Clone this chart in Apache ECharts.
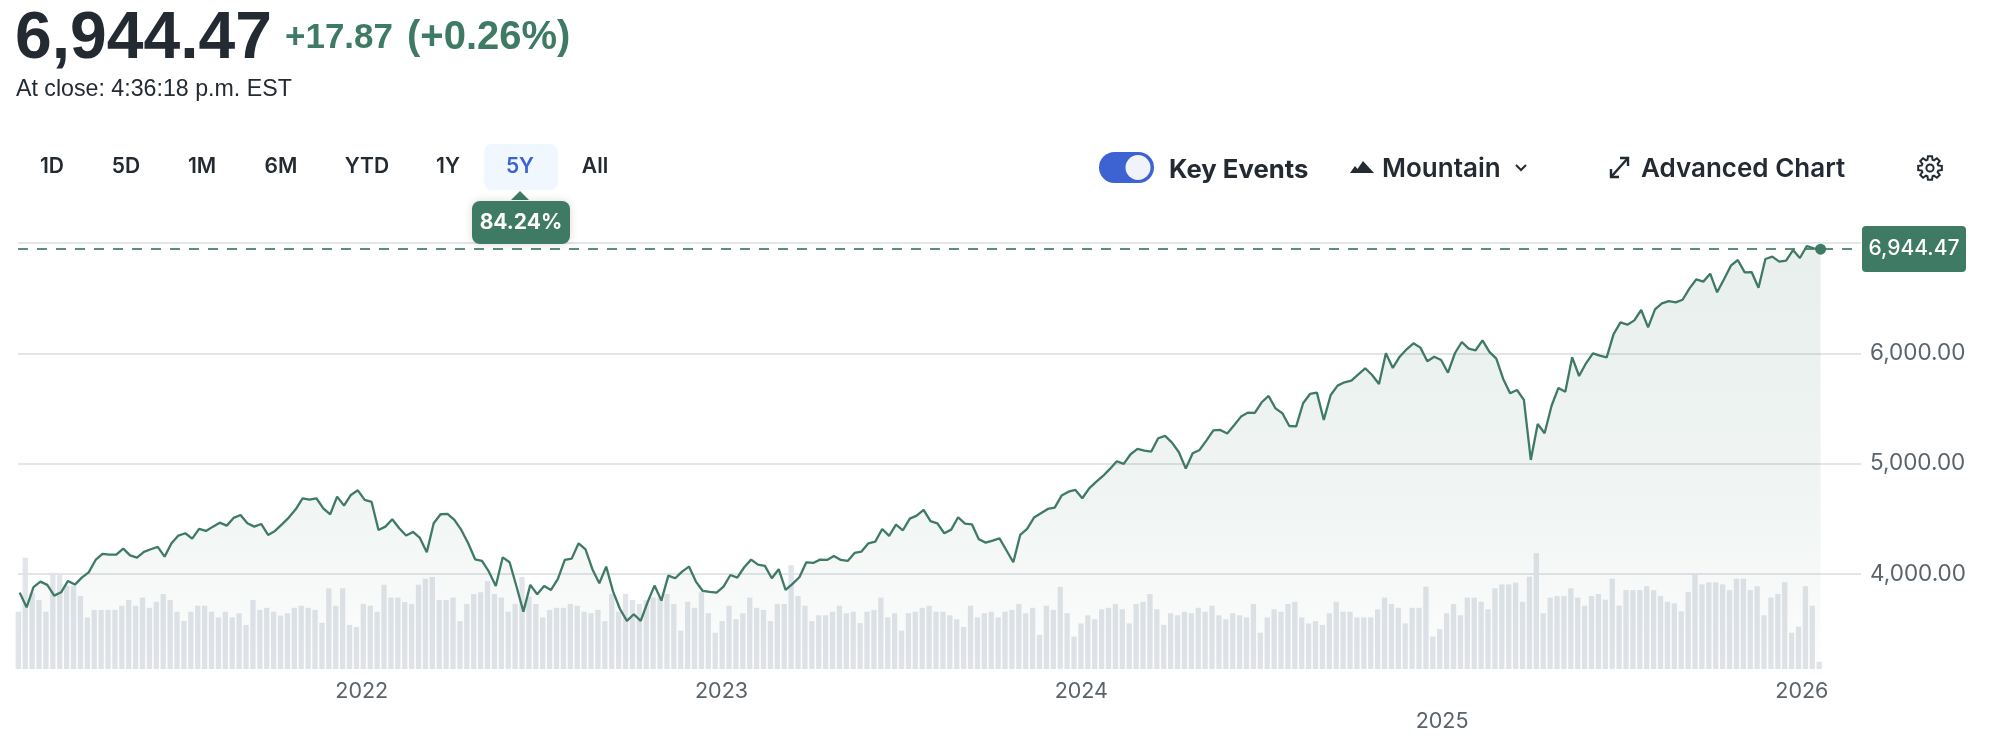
<!DOCTYPE html>
<html><head><meta charset="utf-8">
<style>html,body{margin:0;padding:0;background:#fff}#c{width:2007px;height:754px}</style>
<script src="https://cdn.jsdelivr.net/npm/echarts@6/dist/echarts.min.js"></script>
</head><body><div id="c"></div>
<script>
// Weekly closes
const closes=[3832,3699,3881,3932,3902,3805,3835,3938,3905,3968,4016,4128,4183,4177,4177,4231,4170,4149,4201,4225,4246,4158,4279,4349,4370,4321,4409,4391,4430,4466,4439,4509,4536,4460,4430,4454,4355,4391,4451,4512,4587,4687,4675,4687,4596,4542,4702,4620,4717,4759,4672,4654,4400,4430,4497,4415,4349,4382,4328,4198,4460,4542,4545,4491,4400,4279,4134,4119,4022,3893,4152,4107,3887,3660,3902,3817,3893,3856,3956,4128,4140,4279,4225,4044,3917,4068,3841,3684,3576,3636,3576,3745,3896,3760,3986,3962,4022,4068,3932,3847,3838,3832,3887,3992,3968,4062,4131,4086,4074,3962,4044,3856,3911,3971,4107,4101,4131,4128,4164,4128,4119,4192,4204,4279,4294,4409,4346,4448,4397,4503,4530,4581,4479,4460,4370,4403,4515,4457,4451,4315,4285,4303,4324,4216,4107,4355,4409,4512,4551,4590,4602,4711,4747,4762,4687,4777,4835,4889,4953,5022,4998,5086,5134,5119,5110,5231,5252,5191,5104,4956,5095,5125,5212,5303,5306,5273,5348,5427,5463,5460,5557,5614,5502,5457,5342,5339,5548,5632,5644,5397,5623,5708,5738,5753,5810,5865,5804,5723,6001,5868,5970,6037,6091,6052,5928,5970,5940,5825,6001,6103,6043,6028,6118,6013,5952,5768,5638,5668,5578,5034,5360,5276,5523,5687,5653,5964,5795,5910,6000,5979,5964,6175,6281,6260,6299,6393,6236,6399,6453,6474,6462,6486,6589,6671,6650,6722,6553,6671,6794,6846,6734,6737,6595,6855,6876,6831,6840,6936,6864,6973,6951,6944.47];
// Weekly volume in billions
const volumes=[19.1,37.1,25.4,23.0,19.1,32.1,31.3,27.7,27.7,24.3,17.2,19.7,19.7,19.7,19.7,21.1,23.0,21.1,23.8,20.4,22.4,25.0,23.0,19.1,16.0,19.1,21.1,21.1,19.1,17.2,19.1,17.2,18.6,14.7,23.0,19.7,20.4,19.1,17.8,18.6,20.4,21.1,20.4,19.7,15.4,26.9,21.1,26.9,14.7,14.0,21.7,21.1,19.1,28.1,23.8,23.8,22.3,21.7,28.1,30.1,30.7,23.0,23.0,23.8,16.0,21.7,25.0,25.6,29.3,25.0,23.8,19.1,21.7,30.7,24.1,21.7,17.2,19.7,20.4,20.4,21.7,21.1,19.1,18.6,19.7,16.0,25.0,19.1,25.0,23.0,21.7,23.0,23.8,23.8,25.0,21.7,12.8,22.4,20.4,25.6,18.6,12.1,16.0,21.1,16.6,18.6,23.8,20.4,19.7,16.0,21.7,21.7,34.6,24.3,21.1,16.0,17.9,17.9,19.1,21.1,18.6,19.1,15.3,19.1,19.7,23.8,17.2,18.6,12.8,18.6,19.1,20.4,21.1,19.1,19.1,17.9,16.6,14.0,21.1,17.2,18.6,19.1,17.2,19.1,19.7,21.7,18.6,20.4,11.4,21.1,19.7,27.4,18.6,10.8,15.2,17.9,16.6,19.9,20.4,21.7,19.9,15.2,21.7,22.4,25.0,19.9,14.7,18.6,17.9,19.1,18.6,20.4,19.1,21.1,17.9,16.6,18.6,17.9,17.2,21.7,12.1,17.2,19.9,19.1,21.7,22.4,17.2,15.2,16.0,14.7,18.6,22.4,19.1,19.1,17.2,17.2,17.2,19.9,23.8,21.7,20.4,15.2,20.4,20.4,27.4,10.8,13.3,18.6,21.7,17.9,23.8,23.8,22.4,19.9,26.9,28.2,28.2,28.8,22.4,30.8,38.6,18.6,23.8,24.3,24.3,26.9,23.8,21.1,24.3,25.0,23.1,30.1,21.1,26.3,26.3,26.3,27.6,26.3,24.3,22.4,21.9,19.2,25.7,31.4,28.2,28.9,28.9,28.2,26.3,30.1,30.1,26.3,27.6,17.9,23.8,25.0,28.9,12.1,14.1,27.6,21.1,2.4];
const yearTicks=[2022,2023,2024,2025,2026];
const priceTicks=[4000,5000,6000,7000];
const priceLabels=[4000,5000,6000];
const lastClose=6944.47;
const ranges=['1D','5D','1M','6M','YTD','1Y','5Y','All'];
const rangeCentres=[52,126,202,281,367,448,520,595];

const DAY=86400000, WEEK=7*DAY, start=Date.UTC(2021,0,19);
const dates=closes.map((_,i)=>start+i*WEEK);
const PXW=6.9; // px per week
const xMin=start-(1.7/PXW)*WEEK, xMax=xMin+(1843/PXW)*WEEK;
const green='#3e7a64', ink='#232a31', blue='#3d63d3';
const sans='"Liberation Sans",Arial,sans-serif', ui='Inter,sans-serif';
const T=(text,x,y,font,fill,align)=>({type:'text',z:50,style:{text,x,y,font,fill,textAlign:align||'left',textVerticalAlign:'middle'}});
// gear outline for the settings icon
const gearPts=[];
for(let k=0;k<8;k++){const a=k*Math.PI/4;
 [[-0.30,8.6],[-0.17,12],[0.17,12],[0.30,8.6]].forEach(([d,r])=>gearPts.push([1930+r*Math.sin(a+d),168-r*Math.cos(a+d)]));}

const graphics=[
 T('6,944.47',15,40,'bold 66px '+sans,ink),
 T('+17.87',285,38,'bold 35px '+sans,green),
 T('(+0.26%)',407,38,'bold 40px '+sans,green),
 T('At close: 4:36:18 p.m. EST',16,90,'23.2px '+sans,ink),
 {type:'rect',z:40,shape:{x:484,y:144,width:74,height:46,r:8},style:{fill:'#f0f7ff'}},
 ...ranges.map((r,i)=>T(r,rangeCentres[i],167,'600 21px '+ui,r==='5Y'?blue:ink,'center')),
 {type:'polygon',z:41,shape:{points:[[520,191],[511,200],[529,200]]},style:{fill:green}},
 {type:'rect',z:41,shape:{x:472,y:201,width:98,height:43,r:8},style:{fill:green,shadowBlur:8,shadowColor:'rgba(0,0,0,0.15)'}},
 T('84.24%',521,223,'bold 21px '+ui,'#fff','center'),
 {type:'rect',z:40,shape:{x:1099,y:152,width:55,height:31,r:15.5},style:{fill:blue}},
 {type:'circle',z:41,shape:{cx:1138,cy:167.5,r:12.5},style:{fill:'#f0f4fa'}},
 T('Key Events',1169,170,'bold 25.7px '+ui,ink),
 {type:'polygon',z:40,shape:{points:[[1350,173],[1355,166],[1357.5,169],[1363,161],[1374,173]]},style:{fill:ink}},
 T('Mountain',1382,169,'600 26px '+ui,ink),
 {type:'polyline',z:40,shape:{points:[[1516,165],[1521,170],[1526,165]]},style:{stroke:ink,lineWidth:2,fill:'none'}},
 {type:'polyline',z:40,shape:{points:[[1611,169],[1611,177],[1619,177]]},style:{stroke:ink,lineWidth:2.4,fill:'none'}},
 {type:'polyline',z:40,shape:{points:[[1620,158],[1628,158],[1628,166]]},style:{stroke:ink,lineWidth:2.4,fill:'none'}},
 {type:'line',z:40,shape:{x1:1611,y1:177,x2:1628,y2:158},style:{stroke:ink,lineWidth:2.4}},
 T('Advanced Chart',1641,169,'600 26px '+ui,ink),
 {type:'polygon',z:40,shape:{points:gearPts},style:{fill:'none',stroke:ink,lineWidth:2}},
 {type:'circle',z:40,shape:{cx:1930,cy:168,r:3.6},style:{fill:'none',stroke:ink,lineWidth:2}},
 {type:'rect',z:40,shape:{x:1862,y:226,width:104,height:46,r:4},style:{fill:green}},
 T('6,944.47',1914,249,'500 21px '+ui,'#fff','center')
];

const chart=echarts.init(document.getElementById('c'),null,{renderer:'canvas'});
chart.setOption({
 animation:false,
 backgroundColor:'#fff',
 graphic:graphics,
 grid:{left:18,top:243,width:1843,height:426,containLabel:false},
 xAxis:{type:'value',min:xMin,max:xMax,
  axisLine:{show:false},axisTick:{show:false,customValues:yearTicks.map(y=>Date.UTC(y,0,1))},splitLine:{show:false},
  axisLabel:{margin:12,color:'#5b636a',fontFamily:'Inter',fontSize:21.5,
   customValues:yearTicks.map(y=>Date.UTC(y,0,1)),
   formatter:v=>{const y=new Date(v).getUTCFullYear();return y===2025?'{low|'+y+'}':''+y;},
   rich:{low:{padding:[30,0,0,0],color:'#5b636a',fontFamily:'Inter',fontSize:21.5}}}},
 yAxis:[
  {type:'value',position:'right',min:3140,max:7000,
   axisLine:{show:false},axisTick:{show:false,customValues:priceTicks},
   splitLine:{show:true,lineStyle:{color:'#e2e5ea',width:2}},
   axisLabel:{margin:9,color:'#5b636a',fontFamily:'Inter',fontSize:22.5,customValues:priceLabels,
    formatter:v=>v.toLocaleString('en-US',{minimumFractionDigits:2})}},
  {type:'value',min:0,max:142,show:false,splitLine:{show:false}}
 ],
 series:[
  {type:'bar',yAxisIndex:1,z:1,barWidth:5.3,silent:true,
   itemStyle:{color:'#dfe3e8',opacity:0.95},
   data:dates.map((d,i)=>[d-1.4*DAY,volumes[i]])},
  {type:'line',yAxisIndex:0,z:3,showSymbol:false,symbol:'none',silent:true,
   lineStyle:{color:green,width:2.3},
   areaStyle:{origin:'start',color:{type:'linear',x:0,y:248,x2:0,y2:669,global:true,colorStops:[
     {offset:0,color:'rgba(62,122,100,0.17)'},{offset:0.6,color:'rgba(62,122,100,0.11)'},{offset:1,color:'rgba(62,122,100,0.015)'}]}},
   data:dates.map((d,i)=>[d,closes[i]]),
   markLine:{silent:true,symbol:'none',label:{show:false},
    lineStyle:{color:green,type:[10,9],width:2,opacity:0.85},data:[{yAxis:lastClose}]},
   markPoint:{silent:true,symbol:'circle',symbolSize:11,itemStyle:{color:green},label:{show:false},
    data:[{coord:[dates[dates.length-1],lastClose]}]}}
 ]
});
</script></body></html>
